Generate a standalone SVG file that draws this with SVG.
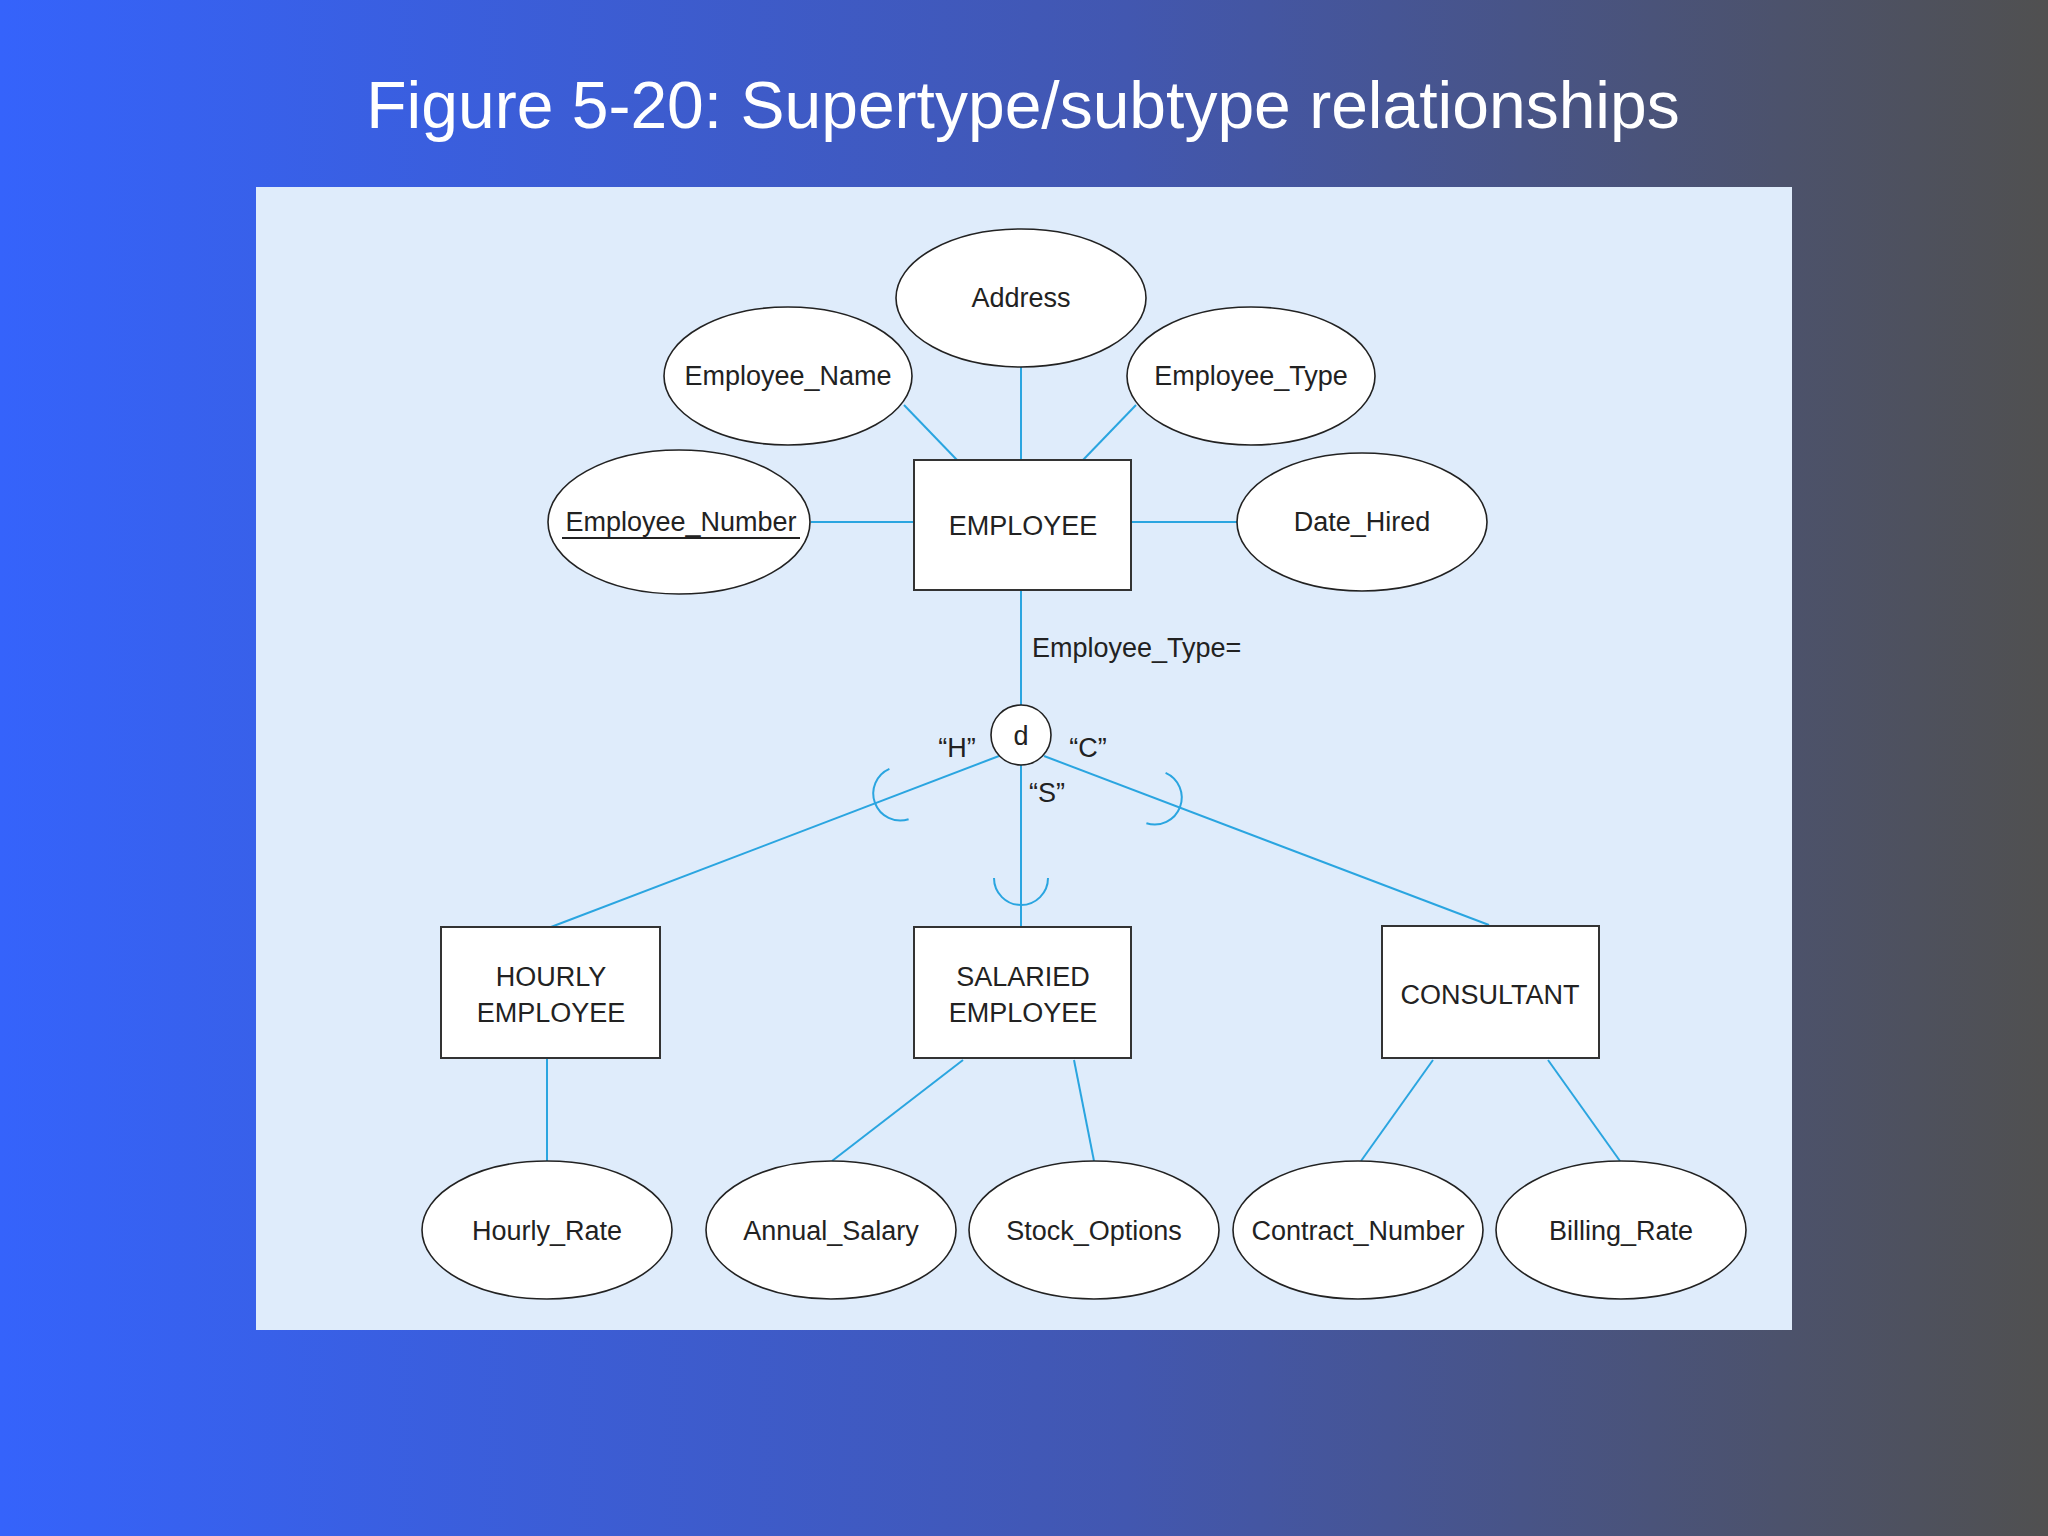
<svg xmlns="http://www.w3.org/2000/svg" width="2048" height="1536" viewBox="0 0 2048 1536">
<defs>
<linearGradient id="bg" x1="0" y1="0" x2="1" y2="0">
<stop offset="0" stop-color="#3563fb"/><stop offset="0.55" stop-color="#4257b0"/><stop offset="1" stop-color="#505050"/>
</linearGradient>
<style>
.e{fill:#fff;stroke:#222;stroke-width:1.6}
.r{fill:#fff;stroke:#333;stroke-width:2}
.t{font-family:"Liberation Sans",Arial,sans-serif;font-size:27px;fill:#222;text-anchor:middle}
.c{stroke:#2aa5e0;stroke-width:2;fill:none}
</style>
</defs>
<rect width="2048" height="1536" fill="url(#bg)"/>
<text x="1023" y="128" font-family="Liberation Sans,Arial,sans-serif" font-size="66" fill="#fff" text-anchor="middle">Figure 5-20: Supertype/subtype relationships</text>
<rect x="256" y="187" width="1536" height="1143" fill="#dfecfb"/>
<g id="connectors" class="c">
<line x1="1021" y1="367" x2="1021" y2="460"/>
<line x1="904" y1="405" x2="957" y2="460"/>
<line x1="1136" y1="405" x2="1083" y2="460"/>
<line x1="811" y1="522" x2="914" y2="522"/>
<line x1="1131" y1="522" x2="1237" y2="522"/>
<line x1="1021" y1="590" x2="1021" y2="705"/>
<line x1="999" y1="756" x2="551" y2="927"/>
<line x1="1021" y1="765" x2="1021" y2="927"/>
<line x1="1044" y1="756" x2="1489" y2="925"/>
<path d="M994 878 A27 27 0 0 0 1048 878"/>
<path d="M889.4 768.8 A27 27 0 0 0 908.6 819.2"/>
<path d="M1165.6 772.8 A27 27 0 0 1 1146.4 823.2"/>
<line x1="547" y1="1058" x2="547" y2="1161"/>
<line x1="963" y1="1060" x2="832" y2="1161"/>
<line x1="1074" y1="1060" x2="1094" y2="1161"/>
<line x1="1433" y1="1060" x2="1361" y2="1161"/>
<line x1="1548" y1="1060" x2="1620" y2="1161"/>
</g>
<g id="address"><ellipse class="e" cx="1021" cy="298" rx="125" ry="69"/><text class="t" x="1021" y="307">Address</text></g>
<g id="employee_name"><ellipse class="e" cx="788" cy="376" rx="124" ry="69"/><text class="t" x="788" y="385">Employee_Name</text></g>
<g id="employee_type"><ellipse class="e" cx="1251" cy="376" rx="124" ry="69"/><text class="t" x="1251" y="385">Employee_Type</text></g>
<g id="employee_number"><ellipse class="e" cx="679" cy="522" rx="131" ry="72"/><text class="t" x="681" y="531">Employee_Number</text><line x1="562" y1="538" x2="800" y2="538" stroke="#222" stroke-width="2"/></g>
<g id="date_hired"><ellipse class="e" cx="1362" cy="522" rx="125" ry="69"/><text class="t" x="1362" y="531">Date_Hired</text></g>
<g id="employee"><rect class="r" x="914" y="460" width="217" height="130"/><text class="t" x="1023" y="535">EMPLOYEE</text></g>
<g id="label_type"><text class="t" x="1032" y="657" text-anchor="start" style="text-anchor:start">Employee_Type=</text></g>
<g id="d"><circle cx="1021" cy="735" r="30" fill="#fff" stroke="#222" stroke-width="1.6"/><text class="t" x="1021" y="745">d</text>
<text class="t" x="957" y="757">“H”</text><text class="t" x="1088" y="757">“C”</text><text class="t" x="1047" y="802">“S”</text></g>
<g id="hourly"><rect class="r" x="441" y="927" width="219" height="131"/><text class="t" x="551" y="986">HOURLY</text><text class="t" x="551" y="1022">EMPLOYEE</text></g>
<g id="salaried"><rect class="r" x="914" y="927" width="217" height="131"/><text class="t" x="1023" y="986">SALARIED</text><text class="t" x="1023" y="1022">EMPLOYEE</text></g>
<g id="consultant"><rect class="r" x="1382" y="926" width="217" height="132"/><text class="t" x="1490" y="1004">CONSULTANT</text></g>
<g id="hourly_rate"><ellipse class="e" cx="547" cy="1230" rx="125" ry="69"/><text class="t" x="547" y="1240">Hourly_Rate</text></g>
<g id="annual_salary"><ellipse class="e" cx="831" cy="1230" rx="125" ry="69"/><text class="t" x="831" y="1240">Annual_Salary</text></g>
<g id="stock_options"><ellipse class="e" cx="1094" cy="1230" rx="125" ry="69"/><text class="t" x="1094" y="1240">Stock_Options</text></g>
<g id="contract_number"><ellipse class="e" cx="1358" cy="1230" rx="125" ry="69"/><text class="t" x="1358" y="1240">Contract_Number</text></g>
<g id="billing_rate"><ellipse class="e" cx="1621" cy="1230" rx="125" ry="69"/><text class="t" x="1621" y="1240">Billing_Rate</text></g>
</svg>
